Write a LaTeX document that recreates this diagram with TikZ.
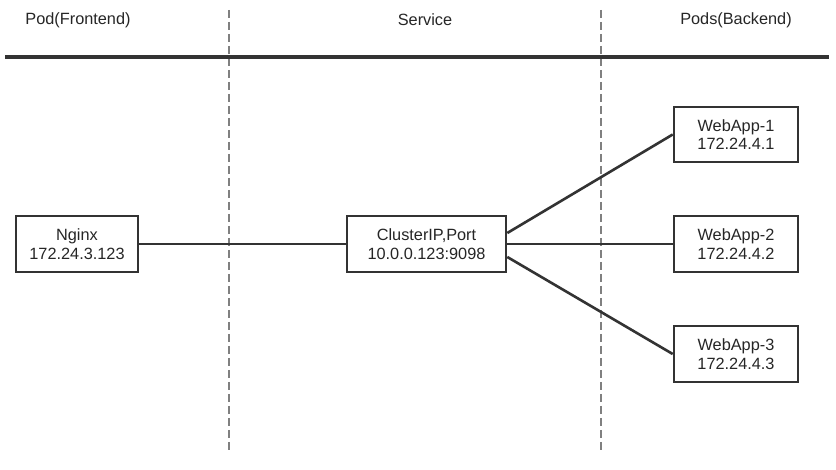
\documentclass[tikz,border=0pt]{standalone}
\usepackage{fontspec}
\setmainfont{Liberation Sans}
\begin{document}
\begin{tikzpicture}[x=1pt,y=-1pt,
  every node/.style={font=\fontsize{16.3}{18.5}\selectfont, text=black!85},
  box/.style={draw=black!80, line width=2.6pt, fill=white, align=center, inner sep=0pt},
  conn/.style={draw=black!80, line width=2.6pt},
  sep/.style={draw=black!50, line width=1.6pt, dash pattern=on 8pt off 4pt},
  title/.style={anchor=center}]
\useasboundingbox (0,0) rectangle (836,470);
\fill[white] (0,0) rectangle (836,470);
% separators
\coordinate (s1t) at (229,10); \coordinate (s1b) at (229,450);
\coordinate (s2t) at (601,10); \coordinate (s2b) at (601,450);
\draw[sep] (s1t) -- (s1b);
\draw[sep] (s2t) -- (s2b);
\coordinate (hl) at (5,57); \coordinate (hr) at (829,57);
\draw[draw=black!80, line width=3.4pt] (hl) -- (hr);
% titles
\node[title] (t1) at (78,20) {Pod(Frontend)};
\node[title] (t2) at (425,20) {Service};
\node[title] (t3) at (736,20) {Pods(Backend)};
% boxes
\node[box, minimum width=122pt, minimum height=56pt] (nginx) at (77,244) {Nginx\\172.24.3.123};
\node[box, minimum width=159pt, minimum height=56pt] (cip) at (426.5,244) {ClusterIP,Port\\10.0.0.123:9098};
\node[box, minimum width=124pt, minimum height=55pt] (w1) at (736,134.5) {WebApp-1\\172.24.4.1};
\node[box, minimum width=124pt, minimum height=56pt] (w2) at (736,244) {WebApp-2\\172.24.4.2};
\node[box, minimum width=124pt, minimum height=56pt] (w3) at (736,354) {WebApp-3\\172.24.4.3};
% connectors
\draw[conn] (nginx.east) -- (cip.west);
\draw[conn] ([yshift=11pt]cip.east) -- (w1.west);
\draw[conn] (cip.east) -- (w2.west);
\draw[conn] ([yshift=-13pt]cip.east) -- (w3.west);
\end{tikzpicture}
\end{document}
